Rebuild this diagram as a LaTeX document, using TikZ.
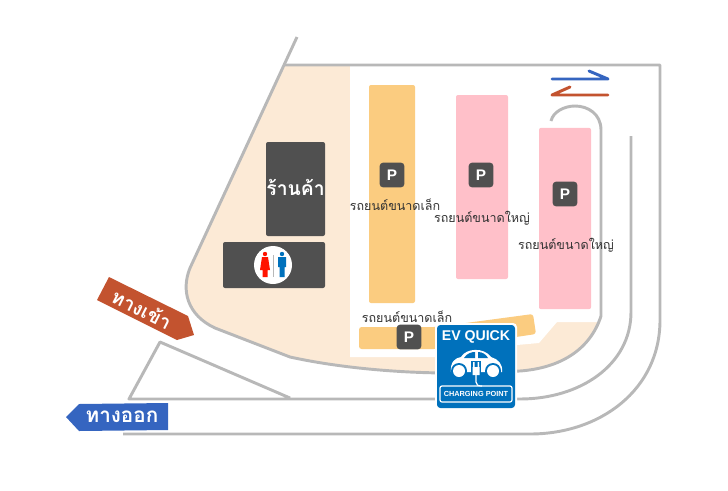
\documentclass[tikz,border=0pt]{standalone}
\usepackage{fontspec}
\setmainfont{Noto Sans}
\newfontfamily\thaifont[Script=Thai]{Loma}
\newfontfamily\evfont{Liberation Sans}
\usetikzlibrary{arrows.meta,positioning,calc}
\definecolor{roadgray}{HTML}{B8B8B8}
\definecolor{areabeige}{HTML}{FCEAD6}
\definecolor{smallorange}{HTML}{FBCC80}
\definecolor{bigpink}{HTML}{FFC0C9}
\definecolor{darkbox}{HTML}{505050}
\definecolor{inred}{HTML}{C3532F}
\definecolor{outblue}{HTML}{3565C0}
\definecolor{evblue}{HTML}{0071BC}
\begin{document}
\begin{tikzpicture}[
    x=0.75pt, y=-0.75pt,
    road/.style={draw=roadgray, line width=2.2pt, line join=round},
    lot/.style={rounded corners=1.5pt, inner sep=0pt},
    darkblock/.style={fill=darkbox, rounded corners=1.5pt, inner sep=0pt},
    pmark/.style={fill=darkbox, text=white, rounded corners=2.5pt, minimum size=18.5pt, inner sep=0pt, font=\evfont\bfseries\fontsize{11.5}{12}\selectfont},
    lotlabel/.style={text=black!80, inner sep=0pt, font=\thaifont\fontsize{9.4}{10}\selectfont},
    signtext/.style={text=white, inner sep=0pt, font=\thaifont\bfseries\fontsize{15.5}{16}\selectfont}
  ]
    \useasboundingbox (0,0) rectangle (728,490);

    \fill[areabeige] (285,65) -- (190,268) .. controls (181,290) and (187,315) .. (215,328) -- (290,357) .. controls (340,368) and (400,373) .. (450,373) -- (520,371) .. controls (560,368) and (590,350) .. (601,320) -- (601,65) -- cycle;
    \fill[white] (350,65) -- (350,357) -- (436,357) -- (517,345) -- (539,343) -- (557,322) -- (602,322) -- (602,65) -- cycle;

    \draw[road] (297,37) -- (190,268) .. controls (181,290) and (187,315) .. (215,328) -- (290,357) .. controls (340,368) and (400,373) .. (450,373) -- (520,371) .. controls (560,368) and (590,350) .. (601,316) -- (601,130) .. controls (601,114) and (588,106) .. (575,106) .. controls (564,106) and (553,112) .. (551,121);
    \draw[road] (285,65) -- (660,65) -- (660,320) .. controls (660,390) and (600,434) .. (530,434) -- (123,434);
    \draw[road] (631,136) -- (631,312) .. controls (631,365) and (580,399) .. (520,399) -- (129,399) -- (160,342) -- (290,398);

    \draw[outblue, line width=2.2pt, line cap=round, line join=round] (552,79) -- (608,79) -- (589,71);
    \draw[inred, line width=2.2pt, line cap=round, line join=round] (608,95) -- (552,95) -- (570,87);

    \node[lot, fill=smallorange, minimum width=34.5pt, minimum height=163.5pt] (lotsmall) at (392,194) {};
    \node[lot, fill=bigpink, minimum width=39pt, minimum height=138pt] (lotbig) at (482,187) {};
    \node[lot, fill=bigpink, minimum width=39pt, minimum height=136pt] (lotside) at (565,218.500) {};
    \fill[smallorange, rounded corners=2pt] (359,327) -- (436,327) -- (533,314) -- (536,334) -- (436,349) -- (359,349) -- cycle;

    \node[darkblock, minimum width=44.250pt, minimum height=70.500pt] (shop) at (295.500,189) {};
    \node[signtext, font=\thaifont\bfseries\fontsize{14.500}{15}\selectfont] (shoplabel) at (295.500,187) {ร้านค้า};
    \node[darkblock, minimum width=76.500pt, minimum height=34.500pt] (toilet) at (274,265) {};
    \node[circle, fill=white, minimum size=28.500pt, inner sep=0pt] (toiletmark) at (273,265) {};
    \draw[roadgray, line width=0.7pt] (273,255) -- (273,277);
    \fill[red!85!orange] (265,254) circle (2.2) (262,257) -- (268,257) -- (270,270) -- (267.500,270) -- (267.500,277) -- (262.500,277) -- (262.500,270) -- (260,270) -- cycle;
    \fill[evblue] (282,254) circle (2.2) (278,257) -- (286,257) -- (286,267) -- (284.500,267) -- (284.500,277) -- (279.500,277) -- (279.500,267) -- (278,267) -- cycle;

    \node[pmark] (psmall) at (392,175) {P};
    \node[pmark] (pbig) at (481,175) {P};
    \node[pmark] (pside) at (565,194) {P};
    \node[pmark] (plow) at (409,337) {P};
    \node[lotlabel] (labelsmall) at (395,205) {รถยนต์ขนาดเล็ก};
    \node[lotlabel] (labelbig) at (482,218) {รถยนต์ขนาดใหญ่};
    \node[lotlabel] (labelside) at (566,245) {รถยนต์ขนาดใหญ่};
    \node[lotlabel] (labellow) at (407,317) {รถยนต์ขนาดเล็ก};

    \fill[inred] (109,277) -- (188,316) -- (194,335) -- (177,340) -- (97,300) -- cycle;
    \node[signtext, rotate=-27, font=\thaifont\bfseries\fontsize{14.500}{15}\selectfont] (entrance) at (142,309) {ทางเข้า};
    \fill[outblue] (79,404) -- (168,403) -- (168,430) -- (79,431) -- (66,417) -- cycle;
    \node[signtext] (exit) at (122,417) {ทางออก};

    \node[fill=white, rounded corners=3pt, minimum width=61.500pt, minimum height=65.250pt, inner sep=0pt] (evback) at (476,366.500) {};
    \node[fill=evblue, rounded corners=2.5pt, minimum width=58.500pt, minimum height=62.250pt, inner sep=0pt] (evsign) at (476,366.500) {};
    \node[text=white, inner sep=0pt, font=\evfont\bfseries\fontsize{10.600}{11}\selectfont] (evtitle) at (476,337) {EV QUICK};
    \fill[white] (451,372) .. controls (450,362) and (455,358) .. (461,357) .. controls (466,348) and (484,347) .. (491,357) .. controls (498,359) and (503,364) .. (502,372) -- cycle;
    \fill[evblue] (464,358) .. controls (467,353) and (472,352) .. (475,352) -- (475,358) -- cycle (478,352) .. controls (482,352) and (486,354) .. (488,358) -- (478,358) -- cycle;
    \fill[evblue] (459,371) circle (8) (493,371) circle (8);
    \fill[white] (459,371) circle (6) (493,371) circle (6);
    \fill[evblue] (471,361) rectangle (481,380);
    \fill[white] (473,362) rectangle (474.500,367) (477.500,362) rectangle (479,367) (472.500,367) rectangle (479.500,375);
    \draw[white, line width=0.9pt] (476,375) -- (476,382) .. controls (476,385) and (478,386) .. (482,386);
    \node[draw=white, line width=0.9pt, rounded corners=1.5pt, minimum width=54pt, minimum height=12pt, inner sep=0pt, text=white, font=\evfont\bfseries\fontsize{5.500}{6}\selectfont] (evcharge) at (476,394) {CHARGING POINT};
  \end{tikzpicture}
\end{document}
